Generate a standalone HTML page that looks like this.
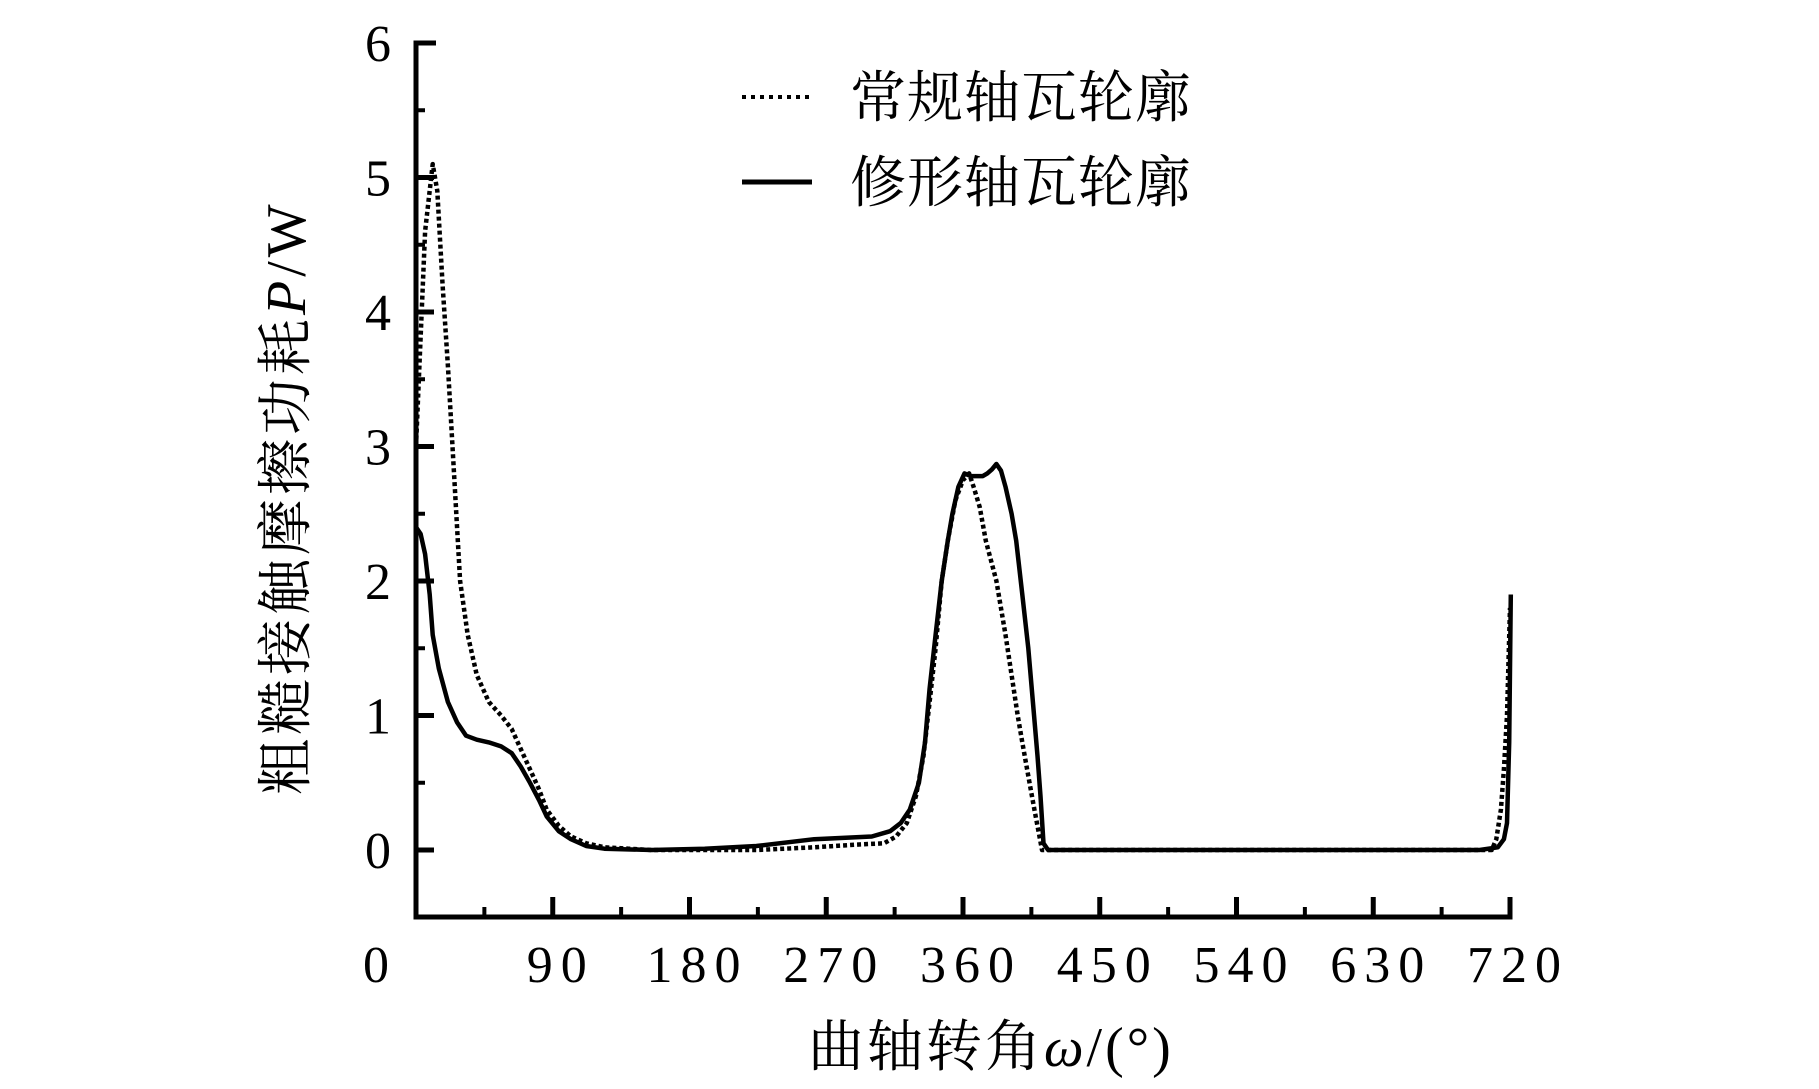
<!DOCTYPE html>
<html><head><meta charset="utf-8"><style>
html,body{margin:0;padding:0;background:#fff;}
svg{display:block;}
text{fill:#000;}
</style></head><body>
<svg id="chart" width="1819" height="1089" viewBox="0 0 1819 1089" xmlns="http://www.w3.org/2000/svg">
<g id="axes"></g>
<g id="series"></g>
<g>
  <line x1="742" y1="97" x2="812" y2="97" stroke="#000" stroke-width="4" stroke-dasharray="4 5"/>
  <text x="850" y="117" font-family="'Liberation Serif','Noto Serif CJK SC',serif" font-size="56" letter-spacing="1">常规轴瓦轮廓</text>
  <line x1="742" y1="182" x2="812" y2="182" stroke="#000" stroke-width="5"/>
  <text x="850" y="202" font-family="'Liberation Serif','Noto Serif CJK SC',serif" font-size="56" letter-spacing="1">修形轴瓦轮廓</text>
</g>
<text x="808" y="1066" font-family="'Liberation Serif','Noto Serif CJK SC',serif" font-size="56" letter-spacing="3">曲轴转角<tspan font-style="italic">ω</tspan>/(°)</text>
<text transform="translate(305,795) rotate(-90)" x="0" y="0" font-family="'Liberation Serif','Noto Serif CJK SC',serif" font-size="56" letter-spacing="4">粗糙接触摩擦功耗<tspan font-style="italic">P</tspan>/W</text>
</svg>
<script>
const xTicks=[0,90,180,270,360,450,540,630,720];
const yTicks=[0,1,2,3,4,5,6];
const convX=[0,6,11,14,17.5,21,24,29,34,40,48,56,63,69,75,81,86,94,102,112,124,140,155,190,224,262,290,308,316,323,329,334,338,342,346,350,355,360,364,367,371,375,382,388,392,396,399,403,407,410,412,500,600,700,708,711,714,716,718,720];
const convY=[3.0,4.6,5.1,4.9,4.2,3.6,3.0,2.0,1.6,1.3,1.1,1.0,0.9,0.75,0.6,0.45,0.3,0.18,0.1,0.05,0.02,0.01,0,0,0,0.02,0.04,0.05,0.1,0.2,0.4,0.7,1.1,1.5,2.0,2.3,2.6,2.75,2.8,2.7,2.55,2.3,2.0,1.6,1.3,1.0,0.8,0.55,0.3,0.12,0,0,0,0,0,0.08,0.3,0.6,1.0,1.8];
const modX=[0,3,6,9,11,15,21,27,33,40,48,56,63,69,75,81,86,94,102,112,124,155,190,224,262,300,312,319,325,331,335,338,342,346,350,353,357,361,365,369,373,376,379,382,385,388,392,395,399,403,406,409,411,413,416,500,600,700,712,716,718,719.5,720.5];
const modY=[2.4,2.35,2.2,1.9,1.6,1.35,1.1,0.95,0.85,0.82,0.8,0.77,0.72,0.62,0.5,0.37,0.25,0.14,0.08,0.03,0.01,0,0.01,0.03,0.08,0.1,0.14,0.2,0.3,0.5,0.8,1.2,1.6,2.0,2.3,2.5,2.7,2.8,2.78,2.78,2.78,2.8,2.83,2.87,2.82,2.7,2.5,2.3,1.9,1.5,1.1,0.7,0.4,0.05,0,0,0,0,0.02,0.08,0.2,0.8,1.9];
const X0=416,X1=1510,Y0=850,Y6=43;
function sx(d){return X0+(X1-X0)*d/720;}
function sy(v){return Y0+(Y6-Y0)*v/6;}
const NS='http://www.w3.org/2000/svg';
const axes=document.getElementById('axes');
function mk(tag,attrs,parent){const e=document.createElementNS(NS,tag);for(const k in attrs)e.setAttribute(k,attrs[k]);parent.appendChild(e);return e;}
const AXB=917;
let a=mk('path',{d:`M${X0+20},${Y6} H${X0} V${AXB} H${X1} V${AXB-20}`,fill:'none',stroke:'#000','stroke-width':5},axes);


yTicks.forEach(v=>{
 let t=mk('line',{x1:X0,x2:X0+18,y1:sy(v),y2:sy(v),stroke:'#000','stroke-width':5},axes);
 
 
 if(v<6){let m=mk('line',{x1:X0,x2:X0+9,y1:sy(v+0.5),y2:sy(v+0.5),stroke:'#000','stroke-width':4},axes);
 
 }
 let l=mk('text',{x:378,y:sy(v)+18,'text-anchor':'middle','font-family':"'Liberation Serif',serif",'font-size':52},axes);
 l.textContent=v;
 
 
});
let m0=mk('line',{x1:X0,x2:X0+9,y1:sy(-0.5),y2:sy(-0.5),stroke:'#000','stroke-width':4},axes);


xTicks.forEach((d,i)=>{
 let t=mk('line',{x1:sx(d),x2:sx(d),y1:AXB,y2:AXB-20,stroke:'#000','stroke-width':5},axes);
 
 
 if(i<xTicks.length-1){let m=mk('line',{x1:sx(d+45),x2:sx(d+45),y1:AXB,y2:AXB-10,stroke:'#000','stroke-width':4},axes);
 
 }
 let l=mk('text',{x:d===0?380:sx(d)+8,y:982,'text-anchor':'middle','font-family':"'Liberation Serif',serif",'font-size':52,'letter-spacing':8},axes);
 l.textContent=d;
 
 
});
const ser=document.getElementById('series');
function pts(xs,ys){return xs.map((d,i)=>sx(d).toFixed(1)+','+sy(ys[i]).toFixed(1)).join(' ');}
let p1=mk('polyline',{points:pts(modX,modY),fill:'none',stroke:'#000','stroke-width':4.5,'stroke-linejoin':'round'},ser);


let p2=mk('polyline',{points:pts(convX,convY),fill:'none',stroke:'#000','stroke-width':4.5,'stroke-dasharray':'4 3','stroke-linejoin':'round'},ser);


</script>
</body></html>
